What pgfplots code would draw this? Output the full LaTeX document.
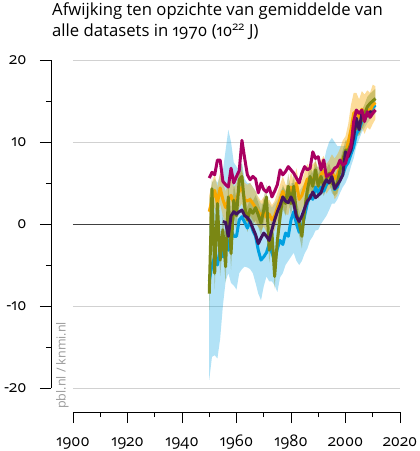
\documentclass[border=0pt]{standalone}
\usepackage{fontspec}
\setmainfont{Open Sans}[Numbers=OldStyle]
\usepackage{pgfplots}
\pgfplotsset{compat=1.18}
\usepackage{pgfplotstable}
\usepgfplotslibrary{fillbetween}

\definecolor{pblblue}{RGB}{0,160,225}
\definecolor{pblorange}{RGB}{248,168,0}
\definecolor{pblolive}{RGB}{122,135,20}
\definecolor{pblpurple}{RGB}{66,20,95}
\definecolor{pblmagenta}{RGB}{169,0,97}

% year, blue (line, low, high), orange (line, low, high), olive (line, low, high), purple, magenta
\pgfplotstableread{
year B Blo Bhi O Olo Ohi G Glo Ghi P M
1950 -7.0 -19.0 3.0 1.5 -0.5 3.5 -8.5 -10.5 -6.5 nan 5.6
1951 -5.0 -16.2 5.0 3.0 1.0 5.0 4.3 2.3 6.3 nan 6.3
1952 -4.0 -16.0 5.5 4.1 2.1 6.1 -6.0 -8.0 -4.0 nan 6.0
1953 -5.0 -16.4 5.0 2.5 0.5 4.5 2.5 0.5 4.5 nan 7.8
1954 -3.0 -14.0 6.0 4.4 2.4 6.4 -4.4 -6.4 -2.4 nan 7.8
1955 -4.0 -10.0 6.5 3.0 1.0 5.0 -0.7 -2.7 1.3 0.3 5.2
1956 -2.5 -7.0 9.0 2.0 0.0 4.0 -5.2 -7.2 -3.2 0.2 4.8
1957 -3.2 -6.0 11.5 2.9 0.9 4.9 3.3 1.3 5.3 -1.5 4.5
1958 -0.7 -7.2 10.0 3.5 1.5 5.5 -3.6 -5.6 -1.6 1.0 6.8
1959 -1.5 -7.5 7.5 2.5 0.5 4.5 2.9 0.9 4.9 1.5 5.0
1960 -1.5 -8.0 7.0 3.0 1.0 5.0 1.0 -1.0 3.0 1.2 5.8
1961 0.5 -6.0 6.5 4.0 2.0 6.0 5.4 3.9 6.9 1.5 6.5
1962 0.9 -5.5 7.5 4.5 2.5 6.5 5.8 4.3 7.3 1.7 10.2
1963 0.2 -5.2 5.5 3.0 1.0 5.0 2.1 0.6 3.6 1.0 8.0
1964 -0.5 -5.3 5.0 2.8 0.8 4.8 0.5 -1.0 2.0 0.8 6.0
1965 0.3 -5.5 5.0 3.0 1.0 5.0 1.8 0.3 3.3 0.3 5.4
1966 -0.8 -6.0 4.5 2.5 0.5 4.5 1.3 -0.2 2.8 -0.5 5.8
1967 -1.5 -7.2 4.0 2.0 0.0 4.0 2.0 0.5 3.5 -1.3 5.5
1968 -3.2 -8.5 3.0 1.5 -0.3 3.3 1.1 -0.4 2.6 -2.4 3.8
1969 -4.4 -9.3 2.5 1.0 -0.8 2.8 0.1 -1.4 1.6 -1.7 5.0
1970 -4.0 -7.6 2.5 1.5 -0.3 3.3 1.7 0.2 3.2 -1.1 4.2
1971 -3.5 -6.4 2.5 0.8 -1.0 2.6 3.3 1.8 4.8 -1.5 3.9
1972 -2.4 -7.0 2.5 1.2 -0.6 3.0 -3.2 -4.7 -1.7 -2.0 4.5
1973 -3.5 -7.0 2.0 0.5 -1.3 2.3 -1.0 -2.5 0.5 -0.7 3.3
1974 -4.5 -7.5 2.5 1.0 -0.8 2.8 -6.4 -7.9 -4.9 0.5 4.0
1975 -3.0 -8.3 3.0 2.0 0.2 3.8 -2.0 -3.5 -0.5 1.5 4.8
1976 -2.0 -6.5 4.0 3.0 1.2 4.8 0.9 -0.6 2.4 2.3 6.6
1977 -2.5 -6.0 4.5 4.0 2.2 5.8 3.3 1.8 4.8 3.3 6.0
1978 -1.1 -5.0 4.0 3.0 1.2 4.8 2.5 1.0 4.0 2.8 6.4
1979 -1.5 -4.5 4.0 2.9 1.1 4.7 4.6 3.1 6.1 2.6 7.0
1980 0.5 -4.0 5.0 4.5 2.7 6.3 2.5 1.0 4.0 3.3 6.6
1981 1.5 -3.5 5.0 3.5 1.7 5.3 4.6 3.1 6.1 2.5 6.2
1982 0.0 -4.5 4.5 5.0 3.2 6.8 1.3 -0.2 2.8 0.9 5.6
1983 -1.0 -5.0 4.0 3.0 1.2 4.8 0.1 -1.4 1.6 0.3 5.0
1984 -0.5 -4.5 4.5 3.5 1.7 5.3 -1.5 -3.0 0.0 1.0 6.2
1985 1.0 -3.6 5.0 4.5 2.7 6.3 1.7 0.2 3.2 1.9 7.0
1986 2.5 -3.0 5.5 5.5 3.7 7.3 4.1 2.6 5.6 2.8 6.6
1987 3.5 -2.0 6.0 5.0 3.2 6.8 5.8 4.3 7.3 3.2 6.8
1988 3.0 -1.5 6.5 5.5 3.7 7.3 4.6 3.1 6.1 3.9 8.8
1989 4.5 -0.8 7.0 5.8 4.0 7.6 6.6 5.1 8.1 3.2 8.0
1990 3.8 -0.7 7.0 5.0 3.2 6.8 4.6 3.1 6.1 3.5 8.2
1991 4.5 0.0 7.0 6.0 4.2 7.8 5.8 4.6 7.0 3.8 6.6
1992 4.0 0.5 7.5 6.5 4.7 8.3 4.6 3.4 5.8 4.8 7.8
1993 4.8 1.0 9.0 5.5 3.7 7.3 5.5 4.3 6.7 5.4 5.8
1994 5.2 1.7 10.0 6.0 4.2 7.8 6.2 5.0 7.4 5.0 6.0
1995 5.5 2.5 10.5 6.5 4.5 8.5 5.0 3.8 6.2 5.8 6.2
1996 4.2 2.5 10.0 5.5 3.0 8.0 4.6 3.4 5.8 4.3 6.8
1997 4.5 3.0 9.5 6.0 3.5 8.5 5.0 3.8 6.2 4.8 7.0
1998 5.5 3.8 9.5 7.0 4.8 9.2 6.6 5.4 7.8 5.3 7.8
1999 6.0 4.5 9.5 8.0 5.8 10.2 7.8 6.6 9.0 6.0 7.2
2000 7.0 5.0 9.5 8.5 6.3 10.7 9.0 7.8 10.2 8.8 7.4
2001 7.5 5.8 10.0 10.0 7.8 12.2 9.0 7.8 10.2 8.2 8.6
2002 8.5 7.0 10.5 11.5 9.0 14.5 9.8 8.6 11.0 9.0 9.5
2003 9.4 8.0 11.5 13.5 11.0 16.0 11.1 9.9 12.3 10.6 12.5
2004 11.0 9.5 12.5 13.8 11.5 16.0 11.9 10.7 13.1 12.9 13.9
2005 11.5 10.3 12.8 13.0 10.8 15.2 12.0 10.8 13.2 11.5 13.5
2006 12.5 11.2 13.5 14.0 11.8 16.2 12.7 11.5 13.9 13.5 13.9
2007 12.8 11.7 13.8 13.5 11.0 15.8 13.4 12.2 14.6 13.0 12.5
2008 13.5 12.3 14.5 14.0 11.8 16.3 14.3 13.1 15.5 13.2 13.7
2009 13.8 12.7 14.8 13.8 11.5 16.0 14.7 13.5 15.9 13.7 13.0
2010 14.2 13.1 15.2 14.5 12.2 17.0 15.0 13.8 16.2 13.6 13.5
2011 14.5 13.5 15.5 14.8 12.8 16.8 15.3 14.1 16.5 13.9 13.9
}\ohc

\begin{document}
\begin{tikzpicture}
\begin{axis}[
    width=327pt, height=328pt, scale only axis,
    xmin=1900, xmax=2020, ymin=-20, ymax=20,
    clip=false,
    axis x line=bottom, axis y line=left,
    axis x line shift=24pt, axis y line shift=22pt,
    axis line style={-, black, line width=0.8pt},
    xtick={1900,1920,...,2020}, minor xtick={1910,1930,...,2010},
    ytick={-20,-10,...,20}, minor ytick={-15,-5,5,15},
    tick align=outside, major tick length=11pt, minor tick length=5pt,
    tick style={black, line width=0.8pt},
    ymajorgrids, grid style={black!18, line width=0.6pt},
    /pgf/number format/1000 sep={},
    /pgf/number format/assume math mode=true,
    xticklabel style={font=\fontsize{16}{16}\selectfont, text height=11pt, text depth=3pt, inner sep=1pt, yshift=-11.3pt},
    yticklabel style={font=\fontsize{16}{16}\selectfont, xshift=-10pt},
    title={Afwijking ten opzichte van gemiddelde van\\alle datasets in 1970 (10\textsuperscript{22} J)},
    title style={at={(rel axis cs:0,1)}, anchor=south west, align=left,
        xshift=-21pt, yshift=14pt, font=\fontsize{16.7}{21}\selectfont, inner sep=0pt},
]
% uncertainty bands
\addplot[name path=bhi, draw=none] table[x=year, y=Bhi] {\ohc};
\addplot[name path=blo, draw=none] table[x=year, y=Blo] {\ohc};
\addplot[pblblue, fill opacity=0.3, draw=none] fill between[of=bhi and blo];
\addplot[name path=ohi, draw=none] table[x=year, y=Ohi] {\ohc};
\addplot[name path=olo, draw=none] table[x=year, y=Olo] {\ohc};
\addplot[pblorange, fill opacity=0.4, draw=none] fill between[of=ohi and olo];
\addplot[name path=ghi, draw=none] table[x=year, y=Ghi] {\ohc};
\addplot[name path=glo, draw=none] table[x=year, y=Glo] {\ohc};
\addplot[pblolive, fill opacity=0.35, draw=none] fill between[of=ghi and glo];

\draw[black!75, line width=0.9pt] (axis cs:1900,0) -- (axis cs:2020,0);

% datasets
\addplot[pblblue, line width=3pt, line join=round] table[x=year, y=B] {\ohc};
\addplot[pblorange, line width=3pt, line join=round] table[x=year, y=O] {\ohc};
\addplot[pblolive, line width=3pt, line join=round] table[x=year, y=G] {\ohc};
\addplot[pblpurple, line width=3pt, line join=round] table[x=year, y=P] {\ohc};
\addplot[pblmagenta, line width=3pt, line join=round] table[x=year, y=M] {\ohc};

\node[rotate=90, anchor=west, text=black!40, font=\fontsize{12.5}{12.5}\selectfont, inner sep=0pt]
    at ([shift={(-10.5pt,-21pt)}]rel axis cs:0,0) {pbl.nl / knmi.nl};
\end{axis}
\path (-73pt,-63pt) rectangle (347pt,388pt);
\end{tikzpicture}
\end{document}
